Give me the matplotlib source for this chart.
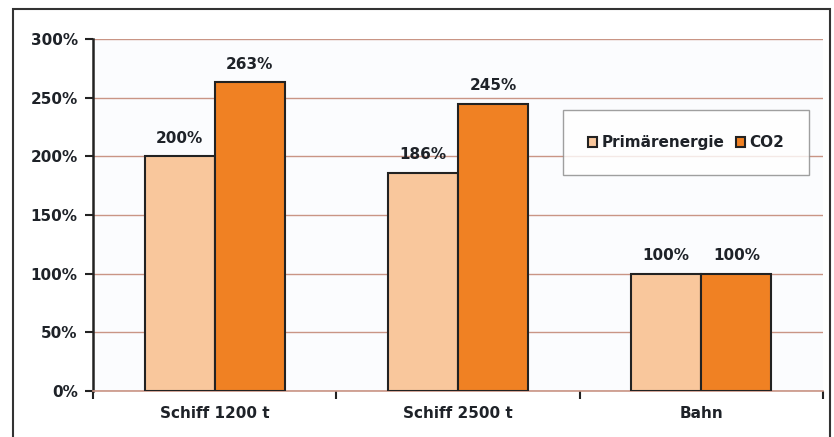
import matplotlib
matplotlib.use("Agg")
import matplotlib.pyplot as plt
from matplotlib.patches import Rectangle
from matplotlib.ticker import FuncFormatter, FixedLocator
import numpy as np

categories = ["Schiff 1200 t", "Schiff 2500 t", "Bahn"]
primaer = [200, 186, 100]
co2 = [263, 245, 100]
series_names = ["Primärenergie", "CO2"]
yticks = [0, 50, 100, 150, 200, 250, 300]

c_light = "#F9C79C"
c_orange = "#F08123"
grid_c = "#C99585"
txt_c = "#1E2228"

plt.rcParams['font.family'] = ['DejaVu Sans']
FS = 11
W, H = 834, 437
fig = plt.figure(figsize=(W/100, H/100), dpi=100)
fig.patch.set_facecolor("white")

# outer frame
fig.add_artist(Rectangle((13/W, -0.05), (830-13)/W, 1.05 - 9/H, transform=fig.transFigure,
                         fill=False, edgecolor="#333333", linewidth=1.5))

left, right, top, bottom = 93, 823, 39, 391
ax = fig.add_axes([left/W, 1 - bottom/H, (right-left)/W, (bottom-top)/H])
ax.set_facecolor("#FBFCFE")

x = np.arange(len(categories))
bw = 0.288
b1 = ax.bar(x - bw/2, primaer, bw, color=c_light, edgecolor="#222222", linewidth=1.5,
            label=series_names[0], zorder=3)
b2 = ax.bar(x + bw/2, co2, bw, color=c_orange, edgecolor="#222222", linewidth=1.5,
            label=series_names[1], zorder=3)

for rects, vals in ((b1, primaer), (b2, co2)):
    for r, v in zip(rects, vals):
        ax.annotate(f"{v}%", (r.get_x() + r.get_width()/2, v), xytext=(0, 7.5),
                    textcoords="offset points", ha="center", va="bottom",
                    fontsize=FS, fontweight="bold", color=txt_c, zorder=4)

ax.set_xlim(-0.5, len(categories) - 0.5)
ax.set_ylim(0, 300)
ax.set_yticks(yticks)
ax.yaxis.set_major_formatter(FuncFormatter(lambda v, p: f"{int(v)}%"))
ax.set_xticks(x)
ax.set_xticklabels(categories, fontsize=FS, fontweight="bold", color=txt_c)
ax.tick_params(axis="x", which="major", length=0, pad=11)
ax.xaxis.set_minor_locator(FixedLocator(np.arange(-0.5, len(categories), 1.0)))
ax.tick_params(axis="x", which="minor", length=6, width=1.5, color="#222222")
ax.tick_params(axis="y", length=6, width=1.5, color="#222222", pad=5)
for lab in ax.get_yticklabels():
    lab.set_fontweight("bold")
    lab.set_fontsize(FS)
    lab.set_color(txt_c)

ax.yaxis.grid(True, color=grid_c, linewidth=1.0, zorder=0)
ax.set_axisbelow(True)
for s in ("top", "right"):
    ax.spines[s].set_visible(False)
ax.spines["left"].set_linewidth(1.8)
ax.spines["left"].set_color("#222222")
ax.spines["bottom"].set_color(grid_c)
ax.spines["bottom"].set_linewidth(1.2)

leg = ax.legend(loc="upper left", bbox_to_anchor=((563-left)/(right-left), 1 - (110-top)/(bottom-top)),
                ncol=2, frameon=True, fancybox=False, handlelength=0.6, handleheight=0.6,
                handletextpad=0.25, columnspacing=0.8, borderpad=1.65, borderaxespad=0,
                prop={"weight": "bold", "size": FS})
leg.get_frame().set_edgecolor("#888888")
leg.get_frame().set_linewidth(1.0)
leg.set_zorder(5)
for t in leg.get_texts():
    t.set_color(txt_c)

fig.savefig("out.png", dpi=100)
